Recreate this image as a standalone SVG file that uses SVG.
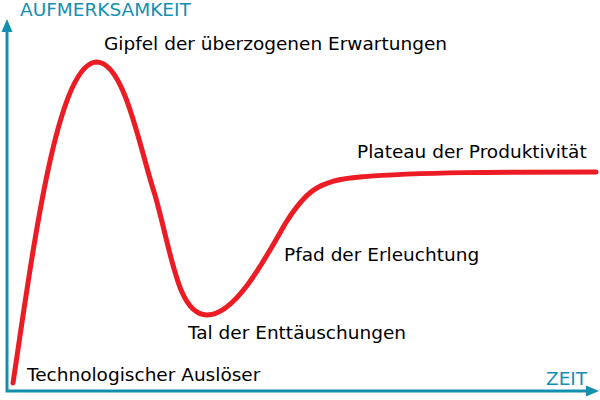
<svg xmlns="http://www.w3.org/2000/svg" width="600" height="400" viewBox="0 0 600 400">
<style>
.lbl{font-family:"DejaVu Sans",sans-serif;font-size:18.5px;fill:#000}
.ax{font-family:"DejaVu Sans",sans-serif;font-size:18.5px;fill:#138fb0}
.axis{stroke:#138fb0;stroke-width:3;fill:none}
.curve{stroke:#ed1c24;stroke-width:5;fill:none;stroke-linecap:round}
</style>
<rect width="600" height="400" fill="#fff"/>
<g id="connectors">
<path class="axis" d="M7,392 V30 M5.5,391 H588"/>
<path d="M7,19 L12.5,32 L1.5,32 Z" fill="#138fb0"/>
<path d="M599,391 L586,385.5 L586,396.5 Z" fill="#138fb0"/>
<path class="curve" d="M13,383 C33,250 57,62 97,62 C125,63 140,150 155,195 C172,255 178,315 207,315 C234,315 262,265 285,224 C305,192 318,180 360,177 C420,172 500,172 596,172"/>
</g>
<g id="axis-y"><text class="ax" x="20" y="16">AUFMERKSAMKEIT</text></g>
<g id="axis-x"><text class="ax" x="546" y="385">ZEIT</text></g>
<g id="trigger"><text class="lbl" x="27" y="381">Technologischer Auslöser</text></g>
<g id="peak"><text class="lbl" x="104" y="50">Gipfel der überzogenen Erwartungen</text></g>
<g id="trough"><text class="lbl" x="188" y="339">Tal der Enttäuschungen</text></g>
<g id="slope"><text class="lbl" x="284" y="261">Pfad der Erleuchtung</text></g>
<g id="plateau"><text class="lbl" x="357" y="158">Plateau der Produktivität</text></g>
</svg>
